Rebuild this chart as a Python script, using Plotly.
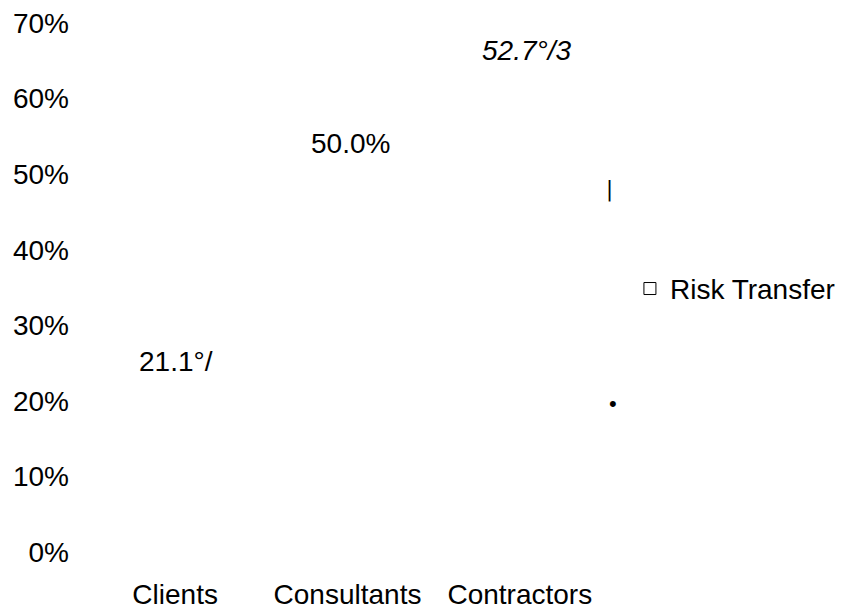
import plotly.graph_objects as go

categories = ["Clients", "Consultants", "Contractors"]
risk_transfer = [21.1, 50.0, 52.7]
value_labels = ["21.1°/", "50.0%", "<i>52.7°/3</i>"]
y_ticks = [0, 10, 20, 30, 40, 50, 60, 70]
y_tick_labels = ["0%", "10%", "20%", "30%", "40%", "50%", "60%", "70%"]
series_name = "Risk Transfer"

FONT = "Liberation Sans, Arial, sans-serif"
FS = 28
label_yshift = [31, 31, 103]
label_xshift = [1, 3, 7]

fig = go.Figure()
fig.add_trace(go.Bar(
    x=categories, y=risk_transfer, name=series_name,
    marker=dict(color="rgba(0,0,0,0)", line=dict(width=0)),
    showlegend=False, hoverinfo="skip",
))
fig.add_trace(go.Scatter(
    x=[None], y=[None], mode="markers", name=series_name,
    marker=dict(symbol="square-open", size=12, color="black", line=dict(width=1)),
))

for i, (c, v, t) in enumerate(zip(categories, risk_transfer, value_labels)):
    fig.add_annotation(x=c, y=v, text=t, showarrow=False,
                       yshift=label_yshift[i], xshift=label_xshift[i],
                       font=dict(family=FONT, size=FS, color="black"))

fig.add_annotation(xref="paper", yref="paper", x=1.0165, y=0.7125, text="|",
                   showarrow=False, font=dict(family="DejaVu Sans, sans-serif", size=21, color="black"))
fig.add_annotation(xref="paper", yref="paper", x=1.0261, y=0.2533, text="•",
                   showarrow=False, font=dict(family=FONT, size=22, color="black"))

fig.update_layout(
    width=843, height=611,
    margin=dict(l=89, r=236.5, t=23, b=59, autoexpand=False),
    paper_bgcolor="white", plot_bgcolor="white",
    font=dict(family=FONT, size=FS, color="black"),
    legend=dict(x=1.0463, y=0.4975, xanchor="left", yanchor="middle",
                bgcolor="rgba(0,0,0,0)", font=dict(family=FONT, size=FS, color="black")),
    xaxis=dict(showgrid=False, zeroline=False, showline=False, ticks="", automargin=False,
               ticklabelstandoff=23, tickfont=dict(family=FONT, size=FS, color="black")),
    yaxis=dict(range=[0, 70], tickvals=y_ticks, ticktext=y_tick_labels, automargin=False,
               showgrid=False, zeroline=False, showline=False, ticks="",
               ticklabelstandoff=19, tickfont=dict(family=FONT, size=FS, color="black")),
)

fig.write_html("out.html")
